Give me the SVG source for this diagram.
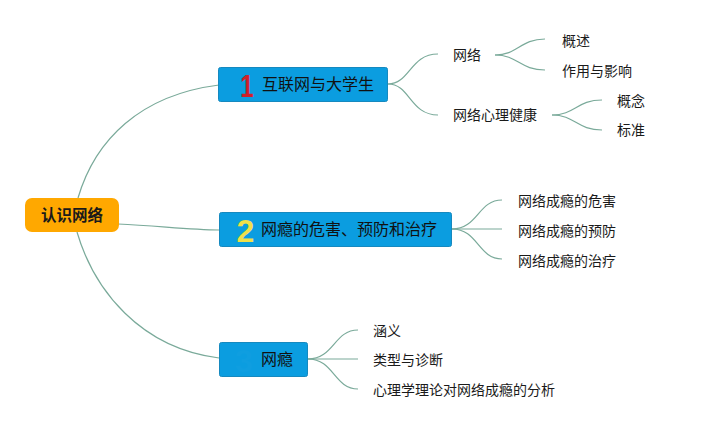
<svg xmlns="http://www.w3.org/2000/svg" width="705" height="430" viewBox="0 0 705 430">
<style>
text{font-family:"Noto Sans CJK SC","Noto Sans",sans-serif;fill:#1a1a1a}
.lf{font-size:14px}
.mt{font-size:16px;fill:#111}
.num{font-family:"Liberation Sans",Arial,sans-serif;font-weight:bold;font-size:32px}
.box{fill:#0b9de0;stroke:#1689bf;stroke-width:1}
.c{fill:none;stroke:#7aaa9a;stroke-width:1.2}
</style>
<rect width="705" height="430" fill="#ffffff"/>
<g id="connectors">
<path class="c" d="M78,198 C95,140 140,95 219,85"/>
<path class="c" d="M118,224 C160,226 190,230 219,230"/>
<path class="c" d="M77,232 C94,290 140,348 219,358"/>
<path class="c" d="M388,84 C410,84 410,54 438,54"/>
<path class="c" d="M388,84 C410,84 410,115 438,115"/>
<path class="c" d="M495,55 C518,55 520,39 545,39"/>
<path class="c" d="M495,55 C518,55 520,70 545,70"/>
<path class="c" d="M552,115 C575,115 577,100 602,100"/>
<path class="c" d="M552,115 C575,115 577,130 602,130"/>
<path class="c" d="M452,229 C478,229 478,200 502,200"/>
<path class="c" d="M452,229 L502,229"/>
<path class="c" d="M452,229 C478,229 478,259 502,259"/>
<path class="c" d="M308,359 C334,359 334,330 358,330"/>
<path class="c" d="M308,359 L358,359"/>
<path class="c" d="M308,359 C334,359 334,389 358,389"/>
</g>
<g id="root">
<rect x="25" y="198" width="94" height="34" rx="7" fill="#ffa800"/>
<text x="72" y="221" text-anchor="middle" font-size="15.5" font-weight="bold">认识网络</text>
</g>
<g id="n1">
<rect class="box" x="218.5" y="67.5" width="169" height="34" rx="2"/>
<text class="num" x="0" y="97" text-anchor="middle" transform="translate(247 0) scale(0.75 1)" style="fill:#d0202a">1</text>
<text class="mt" x="262" y="90">互联网与大学生</text>
</g>
<g id="n2">
<rect class="box" x="219.5" y="212.5" width="232" height="34" rx="2"/>
<text class="num" x="245.5" y="242" text-anchor="middle" style="fill:#f0e04a">2</text>
<text class="mt" x="261" y="235">网瘾的危害、预防和治疗</text>
</g>
<g id="n3">
<rect class="box" x="219.5" y="342.5" width="88" height="34" rx="2"/>
<text class="num" x="244" y="372" text-anchor="middle" style="fill:#0f9ee0">3</text>
<text class="mt" x="261" y="365">网瘾</text>
</g>
<g id="l-wangluo"><text class="lf" x="453" y="60">网络</text></g>
<g id="l-gaishu"><text class="lf" x="562" y="46">概述</text></g>
<g id="l-zuoyong"><text class="lf" x="562" y="76">作用与影响</text></g>
<g id="l-xinli"><text class="lf" x="453" y="120">网络心理健康</text></g>
<g id="l-gainian"><text class="lf" x="617" y="106">概念</text></g>
<g id="l-biaozhun"><text class="lf" x="617" y="135">标准</text></g>
<g id="l-weihai"><text class="lf" x="518" y="206">网络成瘾的危害</text></g>
<g id="l-yufang"><text class="lf" x="518" y="236">网络成瘾的预防</text></g>
<g id="l-zhiliao"><text class="lf" x="518" y="266">网络成瘾的治疗</text></g>
<g id="l-hanyi"><text class="lf" x="373" y="336">涵义</text></g>
<g id="l-leixing"><text class="lf" x="373" y="365">类型与诊断</text></g>
<g id="l-fenxi"><text class="lf" x="373" y="395">心理学理论对网络成瘾的分析</text></g>
</svg>
